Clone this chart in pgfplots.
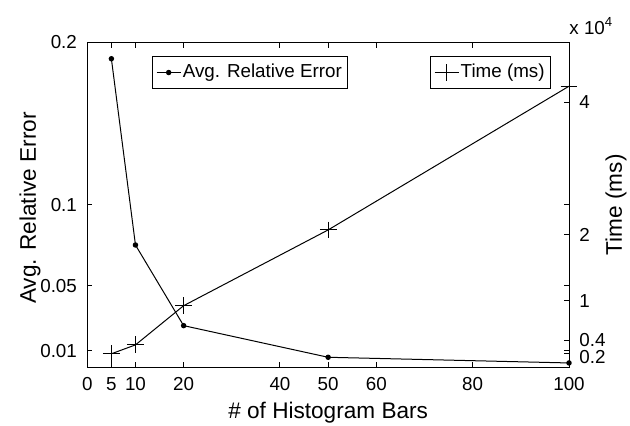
\documentclass[border=0pt]{standalone}
\usepackage{fontspec}
\setmainfont{Liberation Sans}
\usepackage{pgfplots}
\pgfplotsset{compat=1.18}
\begin{document}
\begin{tikzpicture}
\useasboundingbox (-43.65pt,-29pt) rectangle (271.35pt,183.5pt);
\pgfplotsset{
  mybase/.style={
    at={(0,0)}, anchor=south west,
    scale only axis, width=240.85pt, height=162.25pt,
    xmin=0, xmax=100,
    tick align=inside,
    major tick length=2.5pt,
    axis line style={line width=0.5pt},
    tick style={line width=0.5pt, black},
    ticklabel style={font=\fontsize{9.4}{11}\selectfont},
    label style={font=\fontsize{11.3}{13.5}\selectfont},
    scaled y ticks=false,
    legend style={draw=black, line width=0.5pt, fill=white,
      inner xsep=2pt, inner ysep=2pt,
      nodes={inner xsep=0.8pt, inner ysep=2pt, text depth=0.15em},
      font=\fontsize{9.4}{11}\selectfont},
    legend image code/.code={\draw[mark repeat=2,mark phase=2,##1] plot coordinates {(0pt,0pt) (6pt,0pt) (12pt,0pt)};},
  }
}
\begin{axis}[mybase,
  ymin=0, ymax=0.2,
  xtick={0,5,10,20,40,50,60,80,100},
  xticklabels={0,5,10,20,40,50,60,80,100},
  ytick={0.01,0.05,0.1,0.2},
  yticklabels={0.01,0.05,0.1,0.2},
  xticklabel style={inner sep=0pt, yshift=-5pt},
  yticklabel style={inner sep=0pt, xshift=-5pt},
  xlabel={\# of Histogram Bars},
  ylabel={Avg. Relative Error},
  xlabel style={at={(axis description cs:0.5,-0.142)}, anchor=center},
  ylabel style={at={(axis description cs:-0.119,0.49)}, anchor=center},
  legend style={at={(0.1337,0.9593)}, anchor=north west},
]
\addplot[black, line width=0.5pt, mark=*, mark size=1.1pt] coordinates {
  (5,0.19) (10,0.0752) (20,0.0255) (50,0.006) (100,0.0025)
};
\addlegendentry{Avg. Relative Error}
\end{axis}
\begin{axis}[mybase, name=ax2,
  ymin=0, ymax=49000,
  axis x line=none, axis y line*=right,
  ytick={2000,4000,10000,20000,40000},
  yticklabels={\raisebox{-1.5pt}[\height][\depth]{0.2},0.4,1,2,4},
  yticklabel style={inner sep=0pt, xshift=5pt, anchor=west},
  ylabel={Time (ms)},
  ylabel style={at={(axis description cs:1.0976,0.5)}, anchor=center},
  legend style={at={(0.962,0.9593)}, anchor=north east},
]
\addplot[black, line width=0.5pt, mark=+, mark size=4.2pt] coordinates {
  (5,2000) (10,3340) (20,9260) (50,20700) (100,42400)
};
\addlegendentry{Time (ms)}
\end{axis}
\node[anchor=base west, inner sep=0pt, font=\fontsize{9.4}{11}\selectfont] at ([yshift=4.25pt]ax2.north east) {x 10\textsuperscript{4}};
\end{tikzpicture}
\end{document}
